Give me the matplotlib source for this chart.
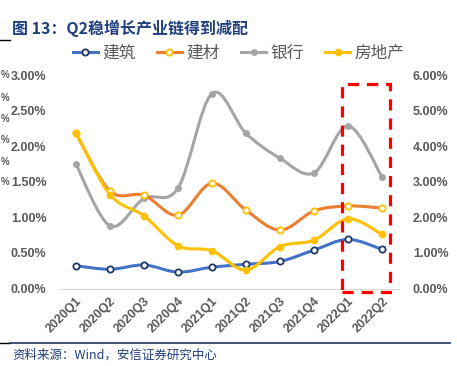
import matplotlib.pyplot as plt
from matplotlib.path import Path
from matplotlib.patches import PathPatch, Rectangle
from matplotlib.lines import Line2D
from matplotlib.ticker import FuncFormatter

plt.rcParams['font.family'] = ['Noto Sans CJK SC', 'DejaVu Sans']

quarters = ["2020Q1", "2020Q2", "2020Q3", "2020Q4", "2021Q1",
            "2021Q2", "2021Q3", "2021Q4", "2022Q1", "2022Q2"]
# left axis (%)
construction = [0.32, 0.27, 0.33, 0.23, 0.30, 0.34, 0.38, 0.54, 0.69, 0.55]
materials = [2.18, 1.37, 1.31, 1.03, 1.48, 1.10, 0.82, 1.09, 1.16, 1.13]
real_estate = [2.19, 1.32, 1.02, 0.60, 0.53, 0.26, 0.59, 0.68, 0.98, 0.76]
# right axis (%)
banks = [3.49, 1.76, 2.53, 2.82, 5.48, 4.36, 3.66, 3.25, 4.57, 3.14]

label_grey = "#595959"
navy = "#1F3864"
title_blue = "#203F7F"


def smooth(xs, ys):
    # Excel-like smoothed line: Catmull-Rom through the points as cubic beziers
    n = len(xs)
    verts = [(xs[0], ys[0])]
    codes = [Path.MOVETO]
    for i in range(n - 1):
        a = max(i - 1, 0)
        b = min(i + 2, n - 1)
        c1 = (xs[i] + (xs[i + 1] - xs[a]) / 6, ys[i] + (ys[i + 1] - ys[a]) / 6)
        c2 = (xs[i + 1] - (xs[b] - xs[i]) / 6, ys[i + 1] - (ys[b] - ys[i]) / 6)
        verts += [c1, c2, (xs[i + 1], ys[i + 1])]
        codes += [Path.CURVE4] * 3
    return Path(verts, codes)


fig = plt.figure(figsize=(4.57, 3.66), dpi=100)
ax = fig.add_axes([59 / 457, 1 - 288.5 / 366, 340 / 457, 213.5 / 366])
ax2 = ax.twinx()
ax.set_zorder(ax2.get_zorder() + 1)
ax.patch.set_visible(False)

x = list(range(len(quarters)))

series = [
    (ax2, banks, "#A5A5A5", dict(marker="o", ms=4, mfc="#A5A5A5", mec="#A5A5A5")),
    (ax, construction, "#4472C4", dict(marker="o", ms=4.5, mfc="white", mec=navy, mew=1.3)),
    (ax, materials, "#ED7D31", dict(marker="o", ms=4.5, mfc="white", mec="#FFC000", mew=1.3)),
    (ax, real_estate, "#FFC000", dict(marker="o", ms=4.5, mfc="#FFC000", mec="#FFC000")),
]
for a, ys, color, mk in series:
    a.add_patch(PathPatch(smooth(x, ys), fill=False, edgecolor=color, lw=2.2,
                          capstyle="round", joinstyle="round"))
    a.plot(x, ys, linestyle="none", **mk)

ax.set_xlim(-0.5, len(quarters) - 0.5)
ax.set_ylim(0, 3)
ax2.set_ylim(0, 6)
ax.set_yticks([0, 0.5, 1, 1.5, 2, 2.5, 3])
ax2.set_yticks([0, 1, 2, 3, 4, 5, 6])
pct = FuncFormatter(lambda v, p: f"{v:.2f}%")
ax.yaxis.set_major_formatter(pct)
ax2.yaxis.set_major_formatter(pct)
ax.set_xticks(x)
ax.set_xticklabels(quarters, rotation=45, ha="right", va="top", rotation_mode="anchor")

for a in (ax, ax2):
    for s in a.spines.values():
        s.set_visible(False)
    a.tick_params(length=0, colors=label_grey, labelsize=9)
ax.spines["bottom"].set_visible(True)
ax.spines["bottom"].set_color("#D9D9D9")
ax.tick_params(axis="y", pad=9)
ax2.tick_params(axis="y", pad=10)
ax.tick_params(axis="x", pad=5)
for lab in ax.get_yticklabels() + ax2.get_yticklabels() + ax.get_xticklabels():
    lab.set_family("Liberation Sans")
    lab.set_fontweight("bold")

# highlight box around 2022
ax.add_patch(Rectangle((7.81, -0.05), 1.43, 2.92, fill=False, edgecolor="#FF0000",
                       lw=2.3, linestyle=(0, (3.5, 2.5)), clip_on=False, zorder=5))

handles = [
    Line2D([], [], color="#4472C4", lw=2.2, marker="o", ms=4.5, mfc="white", mec=navy, mew=1.3),
    Line2D([], [], color="#ED7D31", lw=2.2, marker="o", ms=4.5, mfc="white", mec="#FFC000", mew=1.3),
    Line2D([], [], color="#A5A5A5", lw=2.2, marker="o", ms=4, mfc="#A5A5A5", mec="#A5A5A5"),
    Line2D([], [], color="#FFC000", lw=2.2, marker="o", ms=4.5, mfc="#FFC000", mec="#FFC000"),
]
leg = fig.legend(handles, ["建筑", "建材", "银行", "房地产"], ncol=4, loc="center",
                 bbox_to_anchor=(0.522, 1 - 53 / 366), frameon=False, fontsize=12,
                 handlelength=1.5, handletextpad=0.25, columnspacing=1.3)
for t in leg.get_texts():
    t.set_color(label_grey)

fig.text(12 / 457, 1 - 28 / 366, "图 13：Q2稳增长产业链得到减配", color=title_blue,
         fontsize=11.5, fontweight="bold", va="center", ha="left")
fig.text(12 / 457, 1 - 355 / 366, "资料来源：Wind，安信证券研究中心", color=title_blue,
         fontsize=9, style="italic", va="center", ha="left")

# page fragments around the chart
fig.add_artist(Line2D([0, 10 / 457], [1 - 40 / 366] * 2, color="black", lw=1))
fig.add_artist(Line2D([0, 10 / 457], [1 - 343 / 366] * 2, color="black", lw=1))
fig.add_artist(Line2D([10 / 457, 450 / 457], [1 - 343 / 366] * 2, color=navy, lw=1.2))
for yy in [75, 98, 119, 140, 162, 182]:
    fig.text(0.5 / 457, 1 - yy / 366, "%", color=label_grey, fontsize=7,
             family="Liberation Sans", fontweight="bold", ha="left", va="center")

fig.savefig("out.png", dpi=100)
